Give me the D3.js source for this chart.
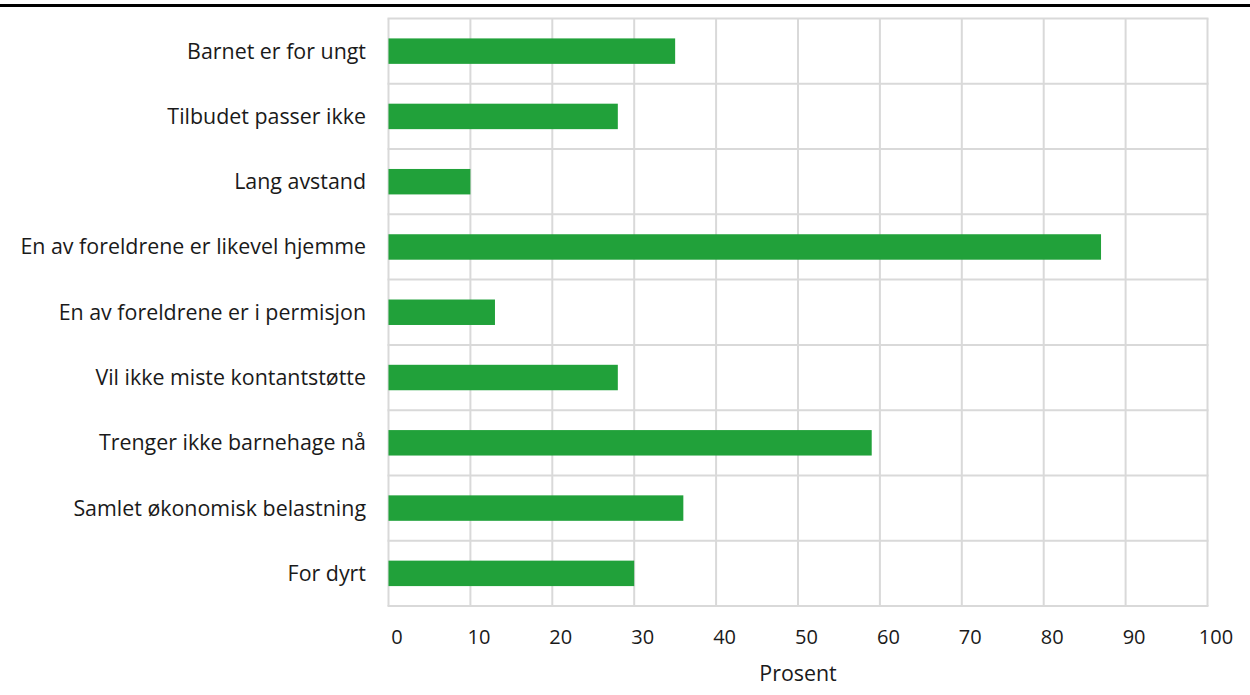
<!DOCTYPE html>
<html>
<head>
<meta charset="utf-8">
<script src="https://cdn.jsdelivr.net/npm/d3@7"></script>
<style>
  body { margin: 0; background: white; }
  text { font-family: "Open Sans", "Noto Sans", sans-serif; fill: #1a1a1a; }
</style>
</head>
<body>
<svg id="chart" width="1250" height="695"></svg>
<script>
var categories = [
	"Barnet er for ungt",
	"Tilbudet passer ikke",
	"Lang avstand",
	"En av foreldrene er likevel hjemme",
	"En av foreldrene er i permisjon",
	"Vil ikke miste kontantstøtte",
	"Trenger ikke barnehage nå",
	"Samlet økonomisk belastning",
	"For dyrt"
];
var values = [35, 28, 10, 87, 13, 28, 59, 36, 30];
var ticks = [0, 10, 20, 30, 40, 50, 60, 70, 80, 90, 100];
var axisTitle = "Prosent";

var svg = d3.select("#chart"),
	plotLeft = 388.5,
	plotRight = 1207.5,
	plotTop = 18.5,
	plotBottom = 606;

// black rule across the top
svg.append("line")
	.attr("x1", 0).attr("x2", 1250)
	.attr("y1", 5.5).attr("y2", 5.5)
	.attr("stroke", "#000")
	.attr("stroke-width", 3);

var x = d3.scaleLinear().domain([0, 100]).range([plotLeft, plotRight]);
var y = d3.scaleBand().domain(categories).range([plotTop, plotBottom]).paddingInner(0).paddingOuter(0);

var grid = svg.append("g").attr("stroke", "#d9d9d9").attr("stroke-width", 2);

// vertical gridlines
grid.selectAll("line.v")
	.data(ticks)
	.enter().append("line")
	.attr("class", "v")
	.attr("x1", function (d) { return x(d); })
	.attr("x2", function (d) { return x(d); })
	.attr("y1", plotTop).attr("y2", plotBottom);

// horizontal lines between categories
var edges = categories.map(function (c) { return y(c); }).concat([plotBottom]);
grid.selectAll("line.h")
	.data(edges)
	.enter().append("line")
	.attr("class", "h")
	.attr("x1", plotLeft - 1).attr("x2", plotRight + 1)
	.attr("y1", function (d) { return d; })
	.attr("y2", function (d) { return d; });

var barH = y.bandwidth() * 0.39;

svg.selectAll("rect.bar")
	.data(values)
	.enter().append("rect")
	.attr("class", "bar")
	.attr("x", x(0))
	.attr("y", function (d, i) { return y(categories[i]) + (y.bandwidth() - barH) / 2; })
	.attr("width", function (d) { return x(d) - x(0); })
	.attr("height", barH)
	.attr("fill", "#21a13a");

// category labels
svg.selectAll("text.cat")
	.data(categories)
	.enter().append("text")
	.attr("class", "cat")
	.attr("x", 366)
	.attr("y", function (d) { return y(d) + y.bandwidth() / 2; })
	.attr("dy", "0.35em")
	.attr("text-anchor", "end")
	.style("font-size", "21.4px")
	.text(function (d) { return d; });

// tick labels (sit slightly right of the gridlines, as in the original)
svg.selectAll("text.tick")
	.data(ticks)
	.enter().append("text")
	.attr("class", "tick")
	.attr("x", function (d) { return x(d) + 8.5; })
	.attr("y", 637)
	.attr("dy", "0.35em")
	.attr("text-anchor", "middle")
	.style("font-size", "20px")
	.text(function (d) { return d; });

svg.append("text")
	.attr("x", 798)
	.attr("y", 674)
	.attr("dy", "0.35em")
	.attr("text-anchor", "middle")
	.style("font-size", "21.4px")
	.text(axisTitle);
</script>
</body>
</html>
